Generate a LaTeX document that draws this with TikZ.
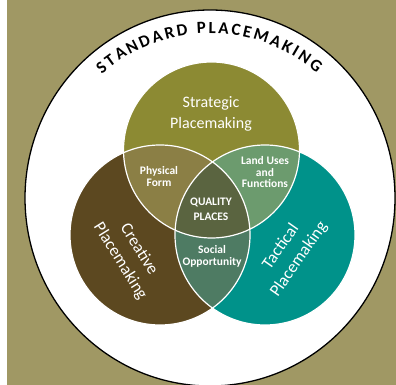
\documentclass[tikz,border=0pt]{standalone}
\usepackage{fontspec}
\setmainfont{Carlito}
\definecolor{bgc}{HTML}{A09864}
\definecolor{cStr}{HTML}{8C8A33}
\definecolor{cCre}{HTML}{5C4820}
\definecolor{cTac}{HTML}{00928A}
\definecolor{cPF}{HTML}{8B7F45}
\definecolor{cLU}{HTML}{6C9B6E}
\definecolor{cQP}{HTML}{5A6440}
\definecolor{cSO}{HTML}{4E7B63}
\tikzset{
  lab/.style={text=white, align=center, inner sep=0pt},
  smalllab/.style={lab, font=\bfseries\fontsize{11.5}{11.5}\selectfont},
  biglab/.style={lab, font=\fontsize{17}{22}\selectfont},
  titleletter/.style={font=\bfseries\fontsize{17}{17}\selectfont, anchor=base, inner sep=0pt, text=black},
  ring/.style={draw=white, line width=1.2pt}
}
\begin{document}
\begin{tikzpicture}[x=1pt,y=1pt]
\useasboundingbox (0,0) rectangle (396,385);
\fill[bgc] (0,0) rectangle (396,385);
\fill[white] (0,0) rectangle (7,385);
\coordinate (O) at (210,187);
\coordinate (cS) at (211.5,235);
\coordinate (cC) at (160,150);
\coordinate (cT) at (265,150);
\draw[black, line width=1.3pt, fill=white] (O) ellipse [x radius=185pt, y radius=188pt];
% circles
\fill[cStr] (cS) circle[radius=88pt];
\fill[cCre] (cC) circle[radius=90pt];
\fill[cTac] (cT) circle[radius=90pt];
\begin{scope}
  \clip (cC) circle[radius=90pt];
  \fill[cSO] (cT) circle[radius=90pt];
\end{scope}
\begin{scope}
  \clip (cS) circle[radius=88pt];
  \fill[cPF] (cC) circle[radius=90pt];
  \fill[cLU] (cT) circle[radius=90pt];
  \clip (cC) circle[radius=90pt];
  \fill[cQP] (cT) circle[radius=90pt];
\end{scope}
\draw[ring] (cS) circle[radius=88pt];
\draw[ring] (cC) circle[radius=90pt];
\draw[ring] (cT) circle[radius=90pt];
% title
\foreach \ch/\ang [count=\i] in {S/129.7, T/125.98, A/121.86, N/117.29, D/112.64, A/108.14, R/103.84, D/99.47, P/92.94, L/89.25, A/85.35, C/81.14, E/77.27, M/72.42, A/67.23, K/62.93, I/59.68, N/56.07, G/51.41}
  \path (O) ++(\ang:164.5pt) node[titleletter, rotate=\ang-90] (t\i) {\ch};
% labels
\node[lab, font=\fontsize{16}{21}\selectfont] (strat) at (211,271.5) {Strategic\\Placemaking};
\node[biglab, rotate=-58] (creat) at (129.5,129.5) {Creative\\Placemaking};
\node[biglab, rotate=55] (tact) at (290,132) {Tactical\\Placemaking};
\node[smalllab] (pf) at (159,208.5) {Physical\\Form};
\node[smalllab] (lu) at (265,212.5) {Land Uses\\and\\Functions};
\node[smalllab, font=\bfseries\fontsize{11.5}{15}\selectfont] (qp) at (211,175.5) {QUALITY\\PLACES};
\node[smalllab, font=\bfseries\fontsize{11.5}{12}\selectfont] (so) at (212,129) {Social\\Opportunity};
\end{tikzpicture}
\end{document}
